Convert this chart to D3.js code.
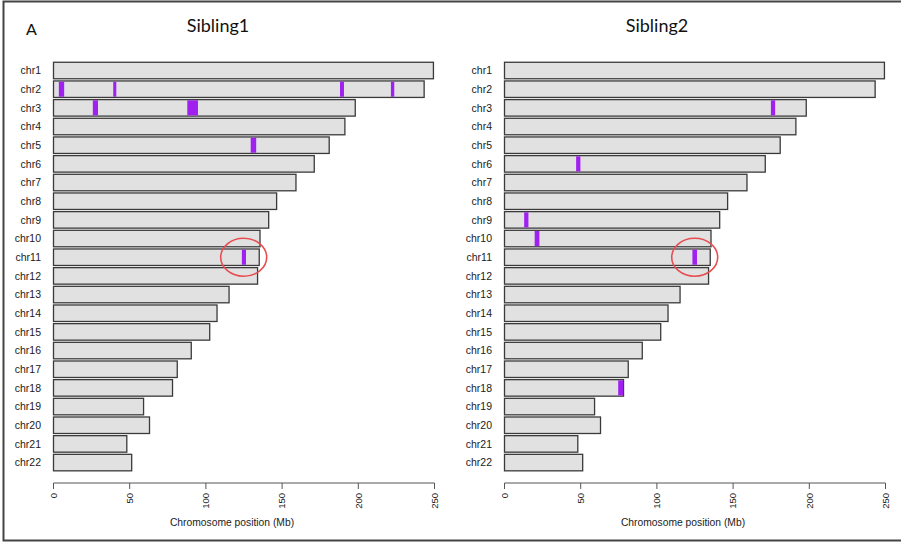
<!DOCTYPE html>
<html>
<head>
<meta charset="utf-8">
<script src="https://cdn.jsdelivr.net/npm/d3@7/dist/d3.min.js"></script>
<style>
    body { margin: 0; background: #fff; }
    svg { display: block; }
    .chrLabel { font-family: "Liberation Sans", Arial, sans-serif; font-size: 10.5px; fill: #1a1a1a; }
    .tickLabel { font-family: "Liberation Sans", Arial, sans-serif; font-size: 9.5px; fill: #222; }
    .axisTitle { font-family: "Liberation Sans", Arial, sans-serif; font-size: 10.3px; fill: #222; }
    .panelTitle { font-family: Lato, "Open Sans", sans-serif; font-size: 18px; fill: #111; }
</style>
</head>
<body>
<div id="chart"></div>
<script>
    // chromosome names and lengths (Mb, hg19)
    var chromosomes = ["chr1", "chr2", "chr3", "chr4", "chr5", "chr6", "chr7", "chr8", "chr9", "chr10", "chr11",
        "chr12", "chr13", "chr14", "chr15", "chr16", "chr17", "chr18", "chr19", "chr20", "chr21", "chr22"];
    var lengths = [249.3, 243.2, 198.0, 191.2, 180.9, 171.1, 159.1, 146.4, 141.2, 135.5, 135.0,
        133.9, 115.2, 107.3, 102.5, 90.4, 81.2, 78.1, 59.1, 63.0, 48.1, 51.3];

    // purple segments [chr, start, end] in Mb
    var sibling1Segments = [
        ["chr2", 3.5, 7.0], ["chr2", 39.2, 41.2], ["chr2", 188.0, 190.6], ["chr2", 221.4, 223.6],
        ["chr3", 25.8, 29.2], ["chr3", 87.8, 94.8],
        ["chr5", 129.4, 133.0],
        ["chr11", 123.6, 126.3]
    ];
    var sibling2Segments = [
        ["chr3", 174.8, 177.6],
        ["chr6", 47.0, 49.8],
        ["chr9", 12.9, 15.7],
        ["chr10", 19.8, 22.9],
        ["chr11", 123.3, 126.3],
        ["chr18", 74.6, 77.9]
    ];

    var axisTicks = [0, 50, 100, 150, 200, 250];
    var highlight = { chr: "chr11", pos: 124.8 };

    var panels = [
        { title: "Sibling1", segments: sibling1Segments, x0: 53.5, x1: 434.5, titleX: 218 },
        { title: "Sibling2", segments: sibling2Segments, x0: 504.5, x1: 885.5, titleX: 657 }
    ];

    var width = 901, height = 542;

    var svg = d3.select("#chart").append("svg")
        .attr("width", width)
        .attr("height", height);

    // outer frame (right edge cut off in the original)
    svg.append("path")
        .attr("d", "M" + (width + 5) + ",1.5 H3.5 V540.5 H" + (width + 5))
        .attr("fill", "none")
        .attr("stroke", "#444")
        .attr("stroke-width", 2);

    svg.append("text")
        .attr("class", "panelTitle")
        .attr("x", 26)
        .attr("y", 35)
        .style("font-size", "16px")
        .text("A");

    var y = d3.scaleBand()
        .domain(chromosomes)
        .range([60.1, 473.0])
        .padding(0.116);

    panels.forEach(function (p) {
        var x = d3.scaleLinear().domain([0, 250]).range([p.x0, p.x1]);
        var g = svg.append("g");

        g.append("text")
            .attr("class", "panelTitle")
            .attr("x", p.titleX)
            .attr("y", 32)
            .attr("text-anchor", "middle")
            .text(p.title);

        // chromosome bars
        g.selectAll("rect.chr")
            .data(chromosomes)
            .enter().append("rect")
            .attr("class", "chr")
            .attr("x", x(0))
            .attr("y", function (d) { return y(d); })
            .attr("width", function (d, i) { return x(lengths[i]) - x(0); })
            .attr("height", y.bandwidth())
            .attr("fill", "#e1e1e1")
            .attr("stroke", "#3a3a3a")
            .attr("stroke-width", 1.3);

        g.selectAll("text.chrLabel")
            .data(chromosomes)
            .enter().append("text")
            .attr("class", "chrLabel")
            .attr("x", x(0) - 12.5)
            .attr("y", function (d) { return y(d) + y.bandwidth() / 2; })
            .attr("dy", "0.35em")
            .attr("text-anchor", "end")
            .text(function (d) { return d; });

        // shared segments
        g.selectAll("rect.seg")
            .data(p.segments)
            .enter().append("rect")
            .attr("class", "seg")
            .attr("x", function (d) { return x(d[1]); })
            .attr("y", function (d) { return y(d[0]) + 0.7; })
            .attr("width", function (d) { return x(d[2]) - x(d[1]); })
            .attr("height", y.bandwidth() - 1.4)
            .attr("fill", "#a020f0");

        // red circle around chr11 segment
        g.append("ellipse")
            .attr("cx", x(highlight.pos))
            .attr("cy", y(highlight.chr) + y.bandwidth() / 2)
            .attr("rx", 23)
            .attr("ry", 19)
            .attr("fill", "none")
            .attr("stroke", "#e84c50")
            .attr("stroke-width", 1.6);

        // x axis, R style
        var axisY = 483;
        g.append("line")
            .attr("x1", x(0)).attr("x2", x(250))
            .attr("y1", axisY).attr("y2", axisY)
            .attr("stroke", "#555").attr("stroke-width", 1);

        g.selectAll("line.tick")
            .data(axisTicks)
            .enter().append("line")
            .attr("class", "tick")
            .attr("x1", function (d) { return x(d); })
            .attr("x2", function (d) { return x(d); })
            .attr("y1", axisY).attr("y2", axisY + 6)
            .attr("stroke", "#555").attr("stroke-width", 1);

        g.selectAll("text.tickLabel")
            .data(axisTicks)
            .enter().append("text")
            .attr("class", "tickLabel")
            .attr("transform", function (d) {
                return "translate(" + x(d) + "," + (axisY + 10) + ")rotate(-90)";
            })
            .attr("text-anchor", "end")
            .attr("dy", "0.35em")
            .text(function (d) { return d; });

        g.append("text")
            .attr("class", "axisTitle")
            .attr("x", (x(0) + x(250)) / 2 - 12)
            .attr("y", 526)
            .attr("text-anchor", "middle")
            .text("Chromosome position (Mb)");
    });
</script>
</body>
</html>
